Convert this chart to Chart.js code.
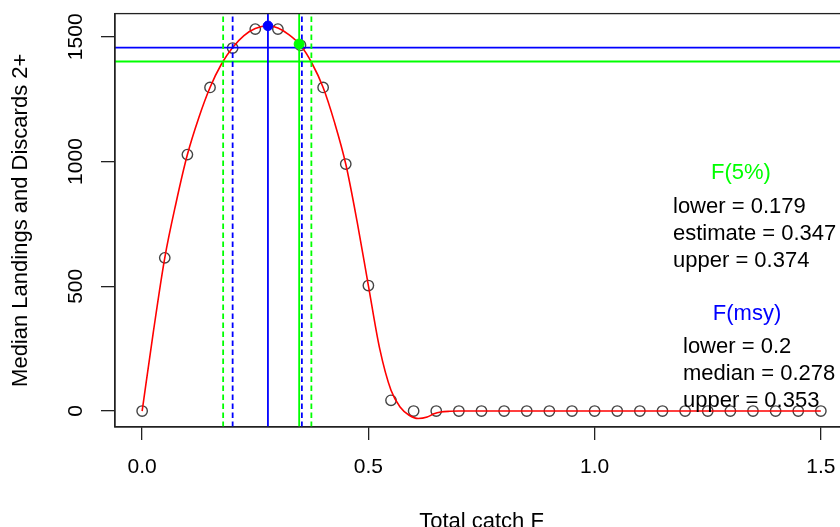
<!DOCTYPE html>
<html>
<head>
<meta charset="utf-8">
<script src="https://cdn.jsdelivr.net/npm/chart.js@4.4.1/dist/chart.umd.min.js"></script>
<style>
html, body { margin: 0; padding: 0; background: #fff; overflow: hidden; width: 840px; height: 527px; }
canvas { display: block; }
</style>
</head>
<body>
<canvas id="yieldChart" width="860" height="540"></canvas>
<script>
// ================================================================
// DATA
// ================================================================
// total catch F grid and median landings + discards (open circles)
const fValues = [0.00, 0.05, 0.10, 0.15, 0.20, 0.25, 0.30, 0.35, 0.40, 0.45,
                 0.50, 0.55, 0.60, 0.65, 0.70, 0.75, 0.80, 0.85, 0.90, 0.95,
                 1.00, 1.05, 1.10, 1.15, 1.20, 1.25, 1.30, 1.35, 1.40, 1.45, 1.50];
const medianYield = [0, 614, 1028, 1297, 1455, 1531, 1531, 1466, 1297, 990,
                     503, 43, 0, 0, 0, 0, 0, 0, 0, 0,
                     0, 0, 0, 0, 0, 0, 0, 0, 0, 0, 0];

// smoothed fit (red line)
const fitF     = [0, 0.025, 0.05, 0.075, 0.1, 0.125, 0.15, 0.175, 0.2, 0.225, 0.25, 0.278, 0.3, 0.325,
                  0.35, 0.375, 0.4, 0.425, 0.45, 0.475, 0.5, 0.525, 0.55, 0.57, 0.59, 0.61, 0.63,
                  0.645, 0.66, 0.68, 0.7, 0.8, 0.9, 1.0, 1.1, 1.2, 1.3, 1.4, 1.5];
const fitYield = [0, 320, 614, 835, 1028, 1175, 1297, 1390, 1457, 1505, 1533, 1544, 1535, 1508,
                  1466, 1395, 1297, 1158, 990, 760, 503, 250, 83, 16, -17, -30, -24,
                  -11, -4, -1, 0, 0, 0, 0, 0, 0, 0, 0, 0];

// reference F values: lower, central, upper
const fmsyLines = [0.2, 0.278, 0.353];
const f5Lines   = [0.179, 0.347, 0.374];
const fmsyPoint = [0.278, 1544];
const f5Point   = [0.347, 1471];
const fmsyHLine = 1457;
const f5HLine   = 1401;

const f5Labels   = ['lower = 0.179', 'estimate = 0.347', 'upper = 0.374'];
const fmsyLabels = ['lower = 0.2', 'median = 0.278', 'upper = 0.353'];

const xTicks = [0, 0.5, 1, 1.5];
const yTicks = [0, 500, 1000, 1500];
const xRange = [-0.06, 1.56];
const yRange = [-64, 1593];

// ================================================================
// CHART
// ================================================================
const FONT = '"Liberation Sans", Arial, sans-serif';
const AXIS = '#222';

function vline(x, color, dash) {
    return { data: [{ x, y: yRange[0] }, { x, y: yRange[1] }], borderColor: color, borderWidth: 1.8,
             borderDash: dash || [], pointRadius: 0, tension: 0 };
}
function hline(y, color) {
    return { data: [{ x: xRange[0], y }, { x: xRange[1], y }], borderColor: color, borderWidth: 1.8,
             pointRadius: 0, tension: 0 };
}

// frame + legend texts
const extras = {
    id: 'extras',
    afterDraw(chart) {
        const { ctx, chartArea: a } = chart;
        ctx.save();
        ctx.strokeStyle = AXIS; ctx.lineWidth = 1.3;
        ctx.strokeRect(a.left, a.top, a.right - a.left, a.bottom - a.top);

        ctx.font = `22px ${FONT}`;
        ctx.textBaseline = 'alphabetic';
        ctx.textAlign = 'center';
        ctx.fillStyle = '#00ff00'; ctx.fillText('F(5%)', 741, 179);
        ctx.fillStyle = '#0000ff'; ctx.fillText('F(msy)', 747, 320);
        ctx.textAlign = 'left';
        ctx.fillStyle = '#000';
        f5Labels.forEach((t, i) => ctx.fillText(t, 673, 213 + i * 27));
        fmsyLabels.forEach((t, i) => ctx.fillText(t, 683, 353 + i * 27));
        ctx.restore();
    }
};

new Chart(document.getElementById('yieldChart'), {
    type: 'line',
    data: {
        datasets: [
            { data: [{ x: fmsyPoint[0], y: fmsyPoint[1] }], showLine: false, pointRadius: 4.8,
              pointBackgroundColor: '#0000ff', pointBorderColor: '#0000ff' },
            { data: [{ x: f5Point[0], y: f5Point[1] }], showLine: false, pointRadius: 5,
              pointBackgroundColor: '#00ff00', pointBorderColor: '#00ff00' },
            vline(f5Lines[0], '#00ff00', [5.5, 3.5]),
            vline(f5Lines[1], '#00ff00'),
            vline(f5Lines[2], '#00ff00', [5.5, 3.5]),
            vline(fmsyLines[0], '#0000ff', [5.5, 3.5]),
            vline(fmsyLines[1], '#0000ff'),
            vline(fmsyLines[2], '#0000ff', [5.5, 3.5]),
            hline(fmsyHLine, '#0000ff'),
            hline(f5HLine, '#00ff00'),
            { data: fitF.map((f, i) => ({ x: f, y: fitYield[i] })), borderColor: '#ff0000', borderWidth: 1.6,
              pointRadius: 0, cubicInterpolationMode: 'monotone' },
            { data: fValues.map((f, i) => ({ x: f, y: medianYield[i] })), showLine: false, pointRadius: 5.2,
              pointBackgroundColor: 'rgba(0,0,0,0)', pointBorderColor: '#444', pointBorderWidth: 1.4 }
        ]
    },
    options: {
        responsive: false,
        animation: false,
        layout: { padding: { top: 13, right: 12, left: 0, bottom: 0 } },
        plugins: { legend: { display: false }, tooltip: { enabled: false } },
        scales: {
            x: {
                type: 'linear', min: xRange[0], max: xRange[1],
                afterBuildTicks: s => { s.ticks = xTicks.map(v => ({ value: v })); },
                afterFit: s => { s.height = 113; },
                grid: { drawOnChartArea: false, tickLength: 13, color: AXIS, tickColor: AXIS, lineWidth: 1.3 },
                border: { color: AXIS, width: 1.3 },
                ticks: { color: '#000', font: { family: FONT, size: 21 }, padding: 15, maxRotation: 0,
                         callback: v => v.toFixed(1) },
                title: { display: true, text: 'Total catch F', color: '#000',
                         font: { family: FONT, size: 22 }, padding: { bottom: 5 } }
            },
            y: {
                type: 'linear', min: yRange[0], max: yRange[1],
                afterBuildTicks: s => { s.ticks = yTicks.map(v => ({ value: v })); },
                afterFit: s => { s.width = 115; },
                grid: { drawOnChartArea: false, tickLength: 14, color: AXIS, tickColor: AXIS, lineWidth: 1.3 },
                border: { color: AXIS, width: 1.3 },
                ticks: { color: '#000', font: { family: FONT, size: 21 }, padding: 1,
                         minRotation: 90, maxRotation: 90, crossAlign: 'center',
                         callback: v => String(v) },
                title: { display: true, text: 'Median Landings and Discards 2+', color: '#000',
                         font: { family: FONT, size: 22 }, padding: { top: 8 } }
            }
        }
    },
    plugins: [extras]
});
</script>
</body>
</html>
